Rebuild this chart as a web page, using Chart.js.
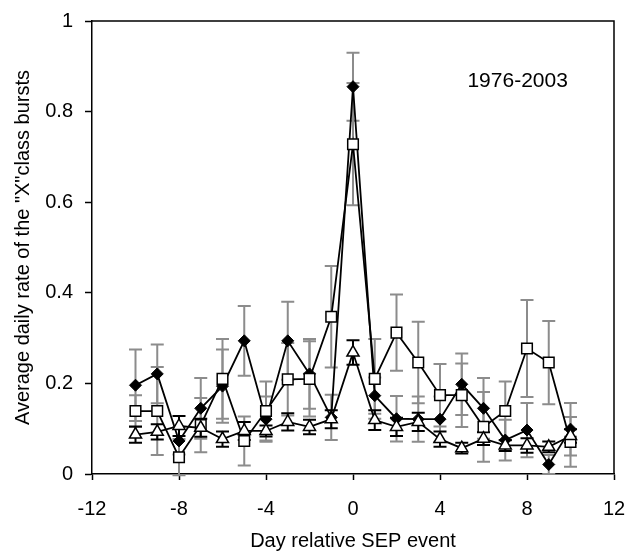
<!DOCTYPE html>
<html>
<head>
<meta charset="utf-8">
<script src="https://cdn.jsdelivr.net/npm/chart.js@4/dist/chart.umd.min.js"></script>
<style>
  html, body { margin: 0; padding: 0; background: #fff; }
</style>
</head>
<body>
<canvas id="myChart" width="626" height="551"></canvas>
<script>
const days = [-10, -9, -8, -7, -6, -5, -4, -3, -2, -1, 0, 1, 2, 3, 4, 5, 6, 7, 8, 9, 10];

// filled diamonds
const diamondRate = [0.196, 0.221, 0.073, 0.145, 0.194, 0.294, 0.121, 0.294, 0.221, 0.125, 0.855,
                     0.173, 0.122, 0.121, 0.121, 0.198, 0.145, 0.075, 0.097, 0.021, 0.099];
const diamondErr = [0.079, 0.065, 0.030, 0.067, 0.081, 0.077, 0.050, 0.086, 0.077, 0.050, 0.075,
                    0.040, 0.050, 0.050, 0.050, 0.068, 0.067, 0.045, 0.060, 0.021, 0.058];

// open squares
const squareRate = [0.139, 0.139, 0.037, 0.108, 0.210, 0.073, 0.139, 0.209, 0.210, 0.347, 0.728,
                    0.210, 0.312, 0.246, 0.174, 0.174, 0.104, 0.139, 0.277, 0.246, 0.071];
const squareErr = [0.035, 0.097, 0.040, 0.060, 0.088, 0.054, 0.065, 0.080, 0.083, 0.112, 0.135,
                   0.088, 0.084, 0.090, 0.069, 0.070, 0.077, 0.065, 0.107, 0.092, 0.055];

// open triangles
const triangleRate = [0.087, 0.093, 0.106, 0.102, 0.077, 0.095, 0.095, 0.115, 0.104, 0.121, 0.268,
                      0.119, 0.104, 0.115, 0.077, 0.057, 0.078, 0.063, 0.063, 0.060, 0.084];
const triangleErr = [0.018, 0.017, 0.022, 0.020, 0.017, 0.020, 0.012, 0.019, 0.016, 0.020, 0.027,
                     0.022, 0.020, 0.020, 0.017, 0.012, 0.014, 0.012, 0.016, 0.012, 0.015];

const xTicks = [-12, -8, -4, 0, 4, 8, 12];
const yTicks = [0, 0.2, 0.4, 0.6, 0.8, 1];
const periodLabel = '1976-2003';

const FONT = "'Liberation Sans', Arial, sans-serif";

const toPoints = vals => vals.map((v, i) => ({ x: days[i], y: v }));

// error bars drawn behind the markers
const errorBars = {
  id: 'errorBars',
  beforeDatasetsDraw(chart) {
    const { ctx, scales: { x, y } } = chart;
    ctx.save();
    [...chart.data.datasets].reverse().forEach(ds => {
      ctx.strokeStyle = ds.errColor;
      ctx.lineWidth = 2;
      ds.data.forEach((pt, i) => {
        const px = x.getPixelForValue(pt.x);
        const top = y.getPixelForValue(pt.y + ds.errVals[i]);
        const bot = y.getPixelForValue(pt.y - ds.errVals[i]);
        ctx.beginPath();
        ctx.moveTo(px, top); ctx.lineTo(px, bot);
        ctx.moveTo(px - 6.5, top); ctx.lineTo(px + 6.5, top);
        ctx.moveTo(px - 6.5, bot); ctx.lineTo(px + 6.5, bot);
        ctx.stroke();
      });
    });
    ctx.restore();
  },
  afterDatasetsDraw(chart) {
    const { ctx, chartArea: a, scales: { x, y } } = chart;
    ctx.save();
    // frame top and right
    ctx.strokeStyle = '#000';
    ctx.lineWidth = 1.5;
    ctx.beginPath();
    ctx.moveTo(a.left, a.top); ctx.lineTo(a.right, a.top); ctx.lineTo(a.right, a.bottom);
    ctx.stroke();
    ctx.fillStyle = '#000';
    ctx.font = '21px ' + FONT;
    ctx.textAlign = 'center';
    ctx.textBaseline = 'middle';
    ctx.fillText(periodLabel, x.getPixelForValue(7.57), y.getPixelForValue(0.867));
    ctx.restore();
  }
};

new Chart(document.getElementById('myChart'), {
  type: 'line',
  data: {
    datasets: [
      {
        data: toPoints(triangleRate), errVals: triangleErr, errColor: '#000',
        pointStyle: 'triangle', pointRadius: 7, pointBackgroundColor: '#fff',
        pointBorderColor: '#000', pointBorderWidth: 1.5,
        borderColor: '#000', borderWidth: 1.8, tension: 0
      },
      {
        data: toPoints(squareRate), errVals: squareErr, errColor: '#8c8c8c',
        pointStyle: 'rect', pointRadius: 7.5, pointBackgroundColor: '#fff',
        pointBorderColor: '#000', pointBorderWidth: 1.5,
        borderColor: '#000', borderWidth: 1.8, tension: 0
      },
      {
        data: toPoints(diamondRate), errVals: diamondErr, errColor: '#8c8c8c',
        pointStyle: 'rectRot', pointRadius: 6, pointBackgroundColor: '#000',
        pointBorderColor: '#000', pointBorderWidth: 1,
        borderColor: '#000', borderWidth: 1.8, tension: 0
      }
    ]
  },
  options: {
    responsive: false,
    animation: false,
    devicePixelRatio: 1,
    layout: { padding: { top: 21, right: 12, left: 0, bottom: 0 } },
    plugins: { legend: { display: false }, tooltip: { enabled: false } },
    scales: {
      x: {
        type: 'linear', min: -12, max: 12,
        afterBuildTicks: s => { s.ticks = xTicks.map(v => ({ value: v })); },
        afterFit: s => { s.height = 77; s.paddingLeft = 0; s.paddingRight = 0; },
        grid: { drawOnChartArea: false, tickLength: 6, tickColor: '#000', tickWidth: 1.5 },
        border: { color: '#000', width: 1.5 },
        ticks: { color: '#000', font: { family: FONT, size: 20 }, padding: 17, maxRotation: 0, callback: v => String(v) },
        title: { display: true, text: 'Day relative SEP event', color: '#000', font: { family: FONT, size: 20 }, padding: { top: 0, bottom: -2 } }
      },
      y: {
        type: 'linear', min: 0, max: 1,
        afterBuildTicks: s => { s.ticks = yTicks.map(v => ({ value: v })); },
        afterFit: s => { s.width = 92; s.paddingTop = 0; s.paddingBottom = 0; },
        grid: { drawOnChartArea: false, tickLength: 7, tickColor: '#000', tickWidth: 1.5 },
        border: { color: '#000', width: 1.5 },
        ticks: { color: '#000', font: { family: FONT, size: 20 }, padding: 12, callback: v => String(v) },
        title: { display: true, text: 'Average daily rate of the "X"class bursts', color: '#000', font: { family: FONT, size: 20 }, padding: { top: 11, bottom: 0 } }
      }
    }
  },
  plugins: [errorBars]
});
</script>
</body>
</html>
